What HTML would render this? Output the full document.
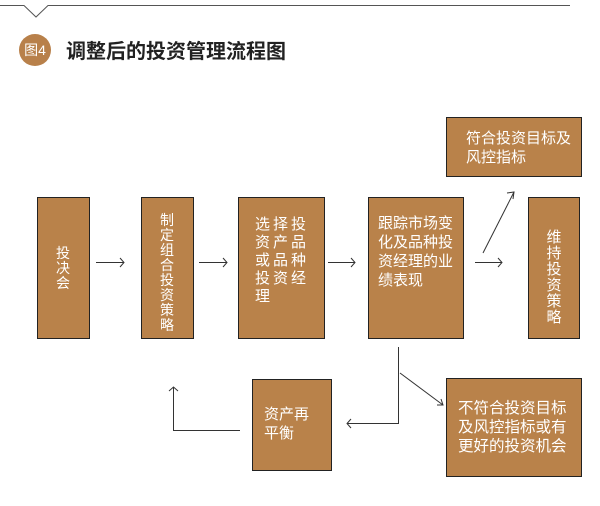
<!DOCTYPE html>
<html><head><meta charset="utf-8"><style>
body{margin:0;background:#fff}
svg{display:block}
text{font-family:"Liberation Sans","Noto Sans CJK SC",sans-serif;fill:#fff;font-size:14px}
</style></head><body>
<svg width="600" height="506" viewBox="0 0 600 506" xmlns="http://www.w3.org/2000/svg">
<g stroke="#555" stroke-width="1" fill="none">
<polyline points="0,5.5 24,5.5 36,17 48,5.5 570,5.5"/>
</g>
<circle cx="35" cy="50" r="16" fill="#b8804a"/>
<text x="35" y="55" text-anchor="middle" style="font-size:14px">图4</text>
<text x="66" y="58" style="fill:#222;font-size:20px;font-weight:bold">调整后的投资管理流程图</text>

<g fill="#b9824a" stroke="#222" stroke-width="1">
<rect x="37.5" y="197.5" width="52" height="141"/>
<rect x="141.5" y="197.5" width="52" height="141"/>
<rect x="238.5" y="197.5" width="86" height="141"/>
<rect x="368.5" y="197.5" width="95" height="141"/>
<rect x="528.5" y="197.5" width="51" height="141"/>
<rect x="446.5" y="117.5" width="135" height="59"/>
<rect x="252.5" y="379.5" width="79" height="91"/>
<rect x="446.5" y="378.5" width="135" height="98"/>
</g>

<g text-anchor="middle">
<text x="63" y="258">投</text><text x="63" y="273">决</text><text x="63" y="288">会</text>
<text x="167" y="225">制</text><text x="167" y="240">定</text><text x="167" y="255">组</text><text x="167" y="270">合</text><text x="167" y="285">投</text><text x="167" y="300">资</text><text x="167" y="315">策</text><text x="167" y="330">略</text>
<text x="554" y="242" style="font-size:15px">维</text><text x="554" y="258" style="font-size:15px">持</text><text x="554" y="274" style="font-size:15px">投</text><text x="554" y="290" style="font-size:15px">资</text><text x="554" y="306" style="font-size:15px">策</text><text x="554" y="322" style="font-size:15px">略</text>
</g>
<g style="letter-spacing:3px;font-size:15px">
<text x="255" y="229" style="font-size:15px">选择投</text>
<text x="255" y="247" style="font-size:15px">资产品</text>
<text x="255" y="265" style="font-size:15px">或品种</text>
<text x="255" y="283" style="font-size:15px">投资经</text>
<text x="255" y="301" style="font-size:15px">理</text>
</g>
<g style="font-size:15px">
<text x="378" y="228" style="font-size:15px">跟踪市场变</text>
<text x="378" y="247" style="font-size:15px">化及品种投</text>
<text x="378" y="266" style="font-size:15px">资经理的业</text>
<text x="378" y="285" style="font-size:15px">绩表现</text>
<text x="466" y="143" style="font-size:15px">符合投资目标及</text>
<text x="466" y="162" style="font-size:15px">风控指标</text>
<text x="264" y="419" style="font-size:15px">资产再</text>
<text x="264" y="438" style="font-size:15px">平衡</text>
<text x="458" y="413" style="font-size:15.5px">不符合投资目标</text>
<text x="458" y="432" style="font-size:15.5px">及风控指标或有</text>
<text x="458" y="451" style="font-size:15.5px">更好的投资机会</text>
</g>

<g stroke="#333" stroke-width="1" fill="none">
<line x1="96" y1="262.5" x2="124" y2="262.5"/><polyline points="120,258 124,262.5 120,267"/>
<line x1="199" y1="262.5" x2="227" y2="262.5"/><polyline points="223,258 227,262.5 223,267"/>
<line x1="328" y1="262.5" x2="355" y2="262.5"/><polyline points="351,258 355,262.5 351,267"/>
<line x1="475" y1="262.5" x2="502" y2="262.5"/><polyline points="498,258 502,262.5 498,267"/>
<line x1="483" y1="253" x2="514" y2="192"/><polyline points="507,193 514,192 513,199"/>
<polyline points="398.5,347 398.5,423.5 347,423.5"/><polyline points="351,419 347,423.5 351,428"/>
<line x1="400" y1="373" x2="443" y2="405"/><polyline points="437,405 443,405 441,399"/>
<polyline points="240,430.5 173.5,430.5 173.5,387"/><polyline points="169,391 173.5,387 178,391"/>
</g>
</svg>
</body></html>
